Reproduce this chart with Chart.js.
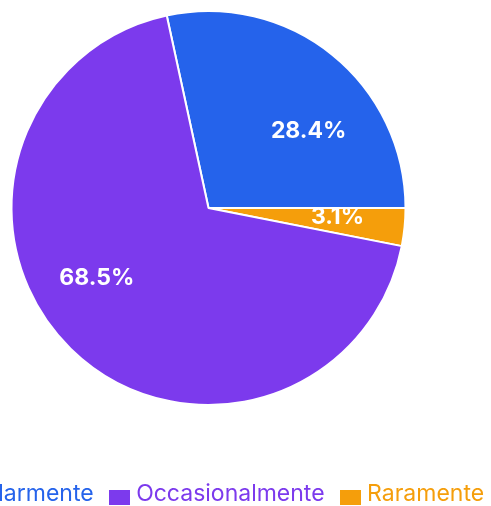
<!DOCTYPE html>
<html>
<head>
<meta charset="utf-8">
<script src="https://cdn.jsdelivr.net/npm/chart.js@4.4.1/dist/chart.umd.min.js"></script>
<style>
  html, body { margin: 0; padding: 0; background: #ffffff; overflow: hidden; }
  #wrap { position: absolute; left: -100.5px; top: 0; width: 617px; height: 506px; }
</style>
</head>
<body>
<div id="wrap"><canvas id="pieChart"></canvas></div>
<script>
// Data (legend order)
const categories = ['Regolarmente', 'Occasionalmente', 'Raramente'];
const shares = [28.4, 68.5, 3.1];
const sliceColors = ['#2563eb', '#7c3aed', '#f59e0b'];
// clockwise order in which the slices are drawn
const drawOrder = [0, 2, 1];

const total = shares.reduce((a, b) => a + b, 0);

// small square legend markers (drawn a bit below the text middle)
function legendMarker(color) {
    const c = document.createElement('canvas');
    c.width = 21;
    c.height = 21;
    const g = c.getContext('2d');
    g.fillStyle = color;
    g.fillRect(0, 6, 21, 15);
    return c;
}

// White percentage labels inside the slices
const sliceLabels = {
    id: 'sliceLabels',
    afterDatasetsDraw(chart) {
        const ctx = chart.ctx;
        const meta = chart.getDatasetMeta(0);
        const values = chart.data.datasets[0].data;
        ctx.save();
        ctx.font = 'bold 23px Inter, sans-serif';
        ctx.fillStyle = '#ffffff';
        ctx.textAlign = 'center';
        ctx.textBaseline = 'middle';
        meta.data.forEach(function(arc, i) {
            const p = arc.getProps(['x', 'y', 'startAngle', 'endAngle', 'outerRadius'], true);
            const mid = (p.startAngle + p.endAngle) / 2;
            const text = values[i].toFixed(1) + '%';
            const half = ctx.measureText(text).width / 2;
            let dx = Math.cos(mid) * p.outerRadius * 0.81;
            const dy = Math.sin(mid) * p.outerRadius * 0.5;
            const lim = p.outerRadius * 0.79 - half;
            if (Math.abs(dx) > lim) dx = Math.sign(dx) * lim;
            ctx.fillText(text, p.x + dx, p.y + dy);
        });
        ctx.restore();
    }
};

new Chart(document.getElementById('pieChart').getContext('2d'), {
    type: 'pie',
    data: {
        labels: drawOrder.map(i => categories[i]),
        datasets: [{
            data: drawOrder.map(i => shares[i]),
            backgroundColor: drawOrder.map(i => sliceColors[i]),
            borderColor: '#ffffff',
            borderWidth: 2
        }]
    },
    options: {
        responsive: true,
        maintainAspectRatio: false,
        animation: false,
        // blue slice ends at 3 o'clock
        rotation: 90 - shares[0] / total * 360,
        layout: { padding: { top: 10, bottom: -10 } },
        plugins: {
            tooltip: { enabled: false },
            legend: {
                position: 'bottom',
                align: 'start',
                title: { display: true, text: ' ', padding: { top: 41.6, bottom: 0 }, font: { size: 12 } },
                labels: {
                    padding: 21,
                    usePointStyle: true,
                    pointStyleWidth: 10,
                    boxHeight: 15,
                    font: { family: 'Inter, sans-serif', size: 23 },
                    sort: (a, b) => categories.indexOf(a.text) - categories.indexOf(b.text),
                    generateLabels: function(chart) {
                        const items = Chart.overrides.pie.plugins.legend.labels.generateLabels(chart);
                        items.forEach(function(item) {
                            item.fontColor = item.fillStyle;
                            item.lineWidth = 0;
                            item.pointStyle = legendMarker(item.fillStyle);
                        });
                        return items;
                    }
                }
            }
        }
    },
    plugins: [sliceLabels]
});
</script>
</body>
</html>
